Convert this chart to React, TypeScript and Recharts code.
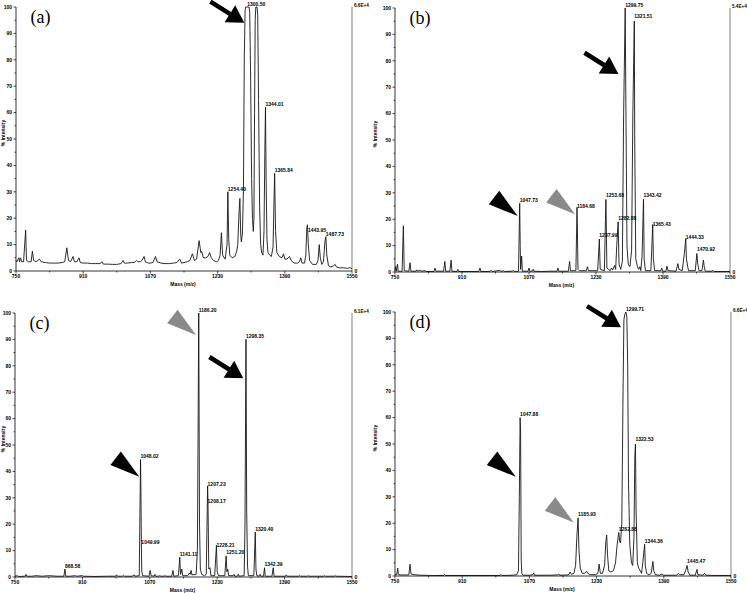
import React from 'react';
import { LineChart, Line, XAxis, YAxis, ReferenceDot, ReferenceLine } from 'recharts';

type Pt = [number, number];
type PeakLabel = [number, number, string];
type Mark = { kind: 'arrow' | 'black' | 'gray'; m: number; v: number };

const SANS = '"Liberation Sans", Arial, sans-serif';
const SERIF = '"Liberation Serif", "Times New Roman", serif';

// axis ticks
const massTicks = [750, 830, 910, 990, 1070, 1150, 1230, 1310, 1390, 1470, 1550];
const intensityTicks = [0, 5, 10, 15, 20, 25, 30, 35, 40, 45, 50, 55, 60, 65, 70, 75, 80, 85, 90, 95, 100];

// (a) spectrum, m/z vs % intensity
const spectrumA: Pt[] = [
  [750, 4], [752, 3.5], [755, 4.5], [757, 5], [758.5, 3.5], [761, 5], [763, 3.5], [768, 3.5], [773, 15.5], [775, 4],
  [780, 3.5], [786, 3.5], [789, 7.5], [792, 4], [798, 3.5], [806, 4.5], [810, 3.5], [820, 3.2], [830, 3], [840, 3],
  [850, 3], [860, 3.2], [866, 3.5], [871, 8.8], [875, 4], [880, 3.5], [886, 5.5], [889, 3.5], [895, 3.5], [900, 5],
  [903, 3.2], [910, 3], [920, 3], [930, 2.8], [940, 2.8], [950, 2.8], [955, 3.5], [958, 2.6], [970, 2.6], [980, 2.5],
  [990, 2.5], [1000, 2.8], [1005, 4], [1008, 3], [1015, 3], [1025, 3.2], [1032, 3.2], [1037, 4], [1040, 3.5], [1046, 3.5],
  [1050, 4], [1055, 5.5], [1058, 3.5], [1065, 3], [1070, 3], [1076, 3.2], [1082, 5.5], [1086, 3.5], [1095, 3], [1105, 2.8],
  [1115, 2.8], [1125, 3], [1133, 3.2], [1140, 4.5], [1144, 3], [1150, 3.2], [1158, 3.5], [1164, 4], [1170, 6.5], [1175, 4],
  [1180, 4.5], [1186, 11.5], [1190, 7], [1192, 7.5], [1196, 5], [1202, 5], [1207, 5.5], [1211, 7], [1215, 5], [1220, 4],
  [1228, 3.5], [1232, 4], [1236, 6], [1239, 14.5], [1242, 6], [1248, 4.5], [1252.5, 10], [1254.4, 30], [1256.5, 12], [1259, 6],
  [1265, 5], [1271, 5.5], [1275.5, 7.5], [1278, 10], [1281, 22], [1283, 27.5], [1285, 14], [1286.5, 11], [1289, 14], [1291.5, 30],
  [1293.5, 80], [1295.5, 99], [1297, 100], [1305, 100], [1306.5, 98], [1308.5, 75], [1311, 35], [1313, 20], [1315, 15], [1316.5, 20],
  [1318, 60], [1319.5, 95], [1321, 100], [1324, 100], [1325.5, 97], [1327.5, 65], [1330, 25], [1332.5, 10], [1335, 7], [1338, 6],
  [1340.5, 15], [1342.5, 45], [1344.01, 62], [1345.5, 35], [1347.5, 12], [1350, 7], [1354, 6], [1358, 5.5], [1362, 9], [1364.5, 28],
  [1365.84, 37], [1368, 15], [1371, 7], [1377, 5.5], [1383, 5], [1387, 6.5], [1390, 4.5], [1395, 4.5], [1401, 5.5], [1405, 4],
  [1412, 3], [1420, 3], [1425, 3.5], [1428, 5], [1431, 3], [1437, 3], [1440, 6], [1442.5, 16.5], [1443.95, 17.5], [1446, 10],
  [1449, 4], [1456, 2.5], [1465, 2.5], [1469, 4], [1472, 10], [1474.5, 5], [1478, 2.5], [1482, 3.5], [1485.5, 11], [1487.73, 13],
  [1490, 6], [1494, 2], [1500, 1.5], [1506, 2], [1510, 2.5], [1513, 1.5], [1520, 1.2], [1530, 1.2], [1540, 1], [1545, 1.3],
  [1550, 0.8],
];

// (b) spectrum
const spectrumB: Pt[] = [
  [750, 0.5], [751.6, 2], [753, 0.3], [756, 3], [757.5, 0.3], [767, 0.3], [770, 17.5], [772, 0.5], [783, 0.3], [786, 3.5],
  [788, 0.3], [800, 0.3], [802, 0.8], [804, 0.3], [810, 0.7], [812, 0.3], [822, 0.5], [824, 0.2], [843, 0.2], [845.5, 1.5],
  [848, 0.3], [866, 0.3], [869, 4], [871, 0.3], [881, 0.3], [884, 4.5], [886, 0.3], [898, 0.2], [900, 1], [902, 0.2],
  [950, 0.2], [953, 1.5], [955, 0.2], [975, 0.2], [980, 0.6], [982, 0.2], [1001, 0.6], [1003, 0.2], [1009, 0.5], [1011, 0.2],
  [1030, 0.3], [1033, 0.6], [1035, 0.2], [1045, 0.3], [1047.73, 26], [1049, 10], [1050, 1], [1052.5, 6], [1054, 0.3], [1068, 0.3],
  [1070, 1.5], [1072, 0.3], [1078, 0.3], [1080, 1], [1082, 0.3], [1100, 0.2], [1120, 0.3], [1137, 0.3], [1139, 1.5], [1141, 0.3],
  [1164, 0.3], [1167, 4], [1169, 0.5], [1182, 0.5], [1184.68, 24.5], [1187, 1], [1190, 0.5], [1207, 0.5], [1209.5, 2], [1212, 0.5],
  [1234, 0.5], [1237.99, 12.5], [1240, 1], [1250, 0.5], [1253.68, 27.5], [1256, 1.5], [1264, 0.5], [1267, 1.5], [1270, 0.8], [1274.5, 2.5],
  [1277, 1], [1279.5, 10], [1282.88, 19], [1285, 3], [1289, 1], [1293, 4], [1296, 60], [1299.75, 100], [1301.5, 60], [1304, 10],
  [1307, 3], [1311, 2], [1315, 8], [1318, 60], [1321.51, 95], [1322.5, 50], [1325, 5], [1329, 2], [1332, 1], [1335, 2],
  [1337, 0.5], [1340, 6], [1343.42, 27.5], [1345, 5], [1348, 0.5], [1361, 0.5], [1363, 8], [1365.43, 18], [1367, 5], [1370, 0.5],
  [1385, 0.5], [1387, 1.5], [1389, 0.3], [1397, 0.3], [1399.5, 2.2], [1402, 0.5], [1421, 0.3], [1425.5, 3.2], [1428, 1], [1436, 0.5],
  [1441, 7], [1444.33, 12.7], [1446, 5], [1449, 2], [1451, 0.5], [1467, 0.5], [1470.92, 7], [1473, 3], [1476, 0.5], [1483, 0.5],
  [1486.5, 4.5], [1488.5, 2], [1491, 0.3], [1507, 0.3], [1509.5, 0.6], [1512, 0.2], [1550, 0.2],
];

// (c) spectrum
const spectrumC: Pt[] = [
  [750, 0.3], [756, 0.5], [758, 0.2], [774, 0.3], [776, 1], [778, 0.3], [790, 0.3], [800, 0.5], [815, 0.3], [830, 0.5],
  [850, 0.3], [866, 0.3], [868.58, 3], [870.5, 0.3], [880, 0.3], [894, 0.5], [896, 0.3], [910, 0.5], [912, 0.3], [940, 0.2],
  [970, 0.3], [989, 0.3], [991, 0.8], [993, 0.3], [1005, 0.3], [1007, 0.6], [1009, 0.3], [1028, 0.3], [1033, 0.8], [1035, 0.3],
  [1045, 0.5], [1048.02, 44.5], [1049, 31], [1049.99, 13], [1051, 2], [1053, 0.5], [1068, 0.3], [1071, 2.5], [1073, 0.5], [1080, 0.3],
  [1082, 1], [1084, 0.3], [1092, 0.3], [1094, 0.6], [1096, 0.3], [1104, 0.3], [1106, 0.6], [1108, 0.3], [1122, 0.3], [1125, 2.5],
  [1127, 0.3], [1138, 0.5], [1141.11, 7.5], [1143, 1], [1146, 3], [1148, 0.5], [1160, 0.5], [1164, 1.5], [1166, 1], [1168, 2.5],
  [1170, 0.8], [1180, 1], [1183, 10], [1186.2, 100], [1188, 20], [1190, 3], [1193, 1], [1200, 0.5], [1204, 1], [1207.23, 34.5],
  [1208.17, 28], [1210, 3], [1213, 3.5], [1215, 0.5], [1224, 0.5], [1228.21, 12], [1230, 2], [1233, 0.5], [1248, 0.5], [1251.2, 8],
  [1253, 2], [1255, 3], [1257, 0.5], [1268, 0.5], [1270, 1], [1272, 0.3], [1278, 0.3], [1280, 1], [1282, 0.3], [1294, 0.5],
  [1296, 20], [1298.35, 90], [1300, 25], [1302, 4], [1304, 0.5], [1317, 0.5], [1320.4, 17], [1322, 3], [1324, 0.5], [1330, 0.3],
  [1332, 1], [1334, 0.3], [1340, 0.3], [1342.39, 3.5], [1344, 0.3], [1360, 0.3], [1363, 3.5], [1365, 0.3], [1392, 0.3], [1394, 0.8],
  [1396, 0.3], [1424, 0.3], [1426, 0.6], [1428, 0.3], [1444, 0.3], [1446, 0.5], [1448, 0.3], [1483, 0.3], [1485, 0.5], [1487, 0.3],
  [1508, 0.3], [1510, 0.5], [1512, 0.3], [1550, 0.2],
];

// (d) spectrum
const spectrumD: Pt[] = [
  [750, 0.5], [754, 0.5], [756.4, 3], [758, 0.5], [765, 0.4], [783, 0.4], [785.7, 4.5], [788, 0.8], [795, 0.5], [810, 0.3],
  [840, 0.2], [866, 0.2], [868, 0.6], [870, 0.2], [900, 0.2], [950, 0.2], [1000, 0.2], [1002.6, 0.6], [1005, 0.2], [1030, 0.3],
  [1040, 0.5], [1044, 2], [1046, 30], [1047.88, 60], [1049, 55], [1050.5, 6], [1052, 1], [1055, 0.3], [1070, 0.3], [1078, 0.5],
  [1080, 1.2], [1082, 0.3], [1120, 0.3], [1137, 0.4], [1140, 0.8], [1142, 0.3], [1163, 0.4], [1167, 1.5], [1170, 0.6], [1176, 1],
  [1180, 4], [1183, 15], [1185.93, 22], [1188, 10], [1191, 3], [1196, 1], [1202, 1], [1206, 1.8], [1209, 1], [1215, 0.5],
  [1228, 0.5], [1233, 1], [1236, 4.5], [1239, 1], [1244, 1], [1249, 4], [1252, 13], [1254, 15.5], [1256, 8], [1259, 2],
  [1264, 1.5], [1270, 2], [1275, 5], [1279, 12], [1282.88, 16.5], [1285, 13], [1287, 12.5], [1290, 20], [1293, 70], [1295, 97],
  [1297, 99], [1299.71, 100], [1302, 98], [1304, 80], [1306, 35], [1309, 12], [1313, 5], [1316, 4], [1319, 15], [1321, 45],
  [1322.53, 50], [1324, 25], [1327, 5], [1330, 3], [1334, 2], [1337, 1], [1340, 5], [1344.36, 12], [1346, 4], [1349, 1],
  [1355, 0.5], [1360, 1], [1364, 5.5], [1366, 2], [1370, 0.5], [1380, 0.3], [1386, 0.8], [1389, 0.3], [1405, 0.3], [1420, 0.3],
  [1425, 1], [1428, 0.5], [1438, 0.5], [1442, 2], [1445.47, 4], [1448, 1.5], [1452, 0.3], [1465, 0.3], [1469, 2.5], [1471, 0.5],
  [1483, 0.3], [1487, 1], [1490, 0.3], [1510, 0.2], [1550, 0.2],
];

// peak labels: m/z, label height, text
const labelsA: PeakLabel[] = [
  [1254.4, 30, '1254.40'], [1300.5, 100, '1300.50'], [1344.01, 62.4, '1344.01'], [1365.84, 37.3, '1365.84'],
  [1445, 14.6, '1443.95'], [1487.73, 13.2, '1487.73'],
];
const labelsB: PeakLabel[] = [
  [1047.73, 26.4, '1047.73'], [1184.68, 24.2, '1184.68'], [1237.99, 13.1, '1237.99'], [1253.68, 28, '1253.68'],
  [1282.88, 19.4, '1282.88'], [1299.75, 100, '1299.75'], [1321.51, 96, '1321.51'], [1343.42, 28, '1343.42'],
  [1365.43, 17.3, '1365.43'], [1444.33, 12.2, '1444.33'], [1470.92, 7.8, '1470.92'],
];
const labelsC: PeakLabel[] = [
  [868.58, 3.2, '868.58'], [1048.02, 44.8, '1048.02'], [1049.99, 12.2, '1049.99'], [1141.11, 7.6, '1141.11'],
  [1186.2, 100, '1186.20'], [1207.23, 34.1, '1207.23'], [1207.23, 27.8, '1208.17'], [1228.21, 11, '1228.21'],
  [1251.2, 8.5, '1251.20'], [1298.35, 90.3, '1298.35'], [1320.4, 17.3, '1320.40'], [1342.39, 4, '1342.39'],
];
const labelsD: PeakLabel[] = [
  [1047.88, 60.4, '1047.88'], [1185.93, 22.5, '1185.93'], [1282.88, 16.8, '1282.88'], [1299.71, 100, '1299.71'],
  [1322.53, 50.8, '1322.53'], [1344.36, 12.4, '1344.36'], [1445.47, 4.8, '1445.47'],
];

// arrow / arrowhead annotations (tip position)
const marksA: Mark[] = [{ kind: 'arrow', m: 1293.6, v: 94 }];
const marksB: Mark[] = [
  { kind: 'arrow', m: 1283.5, v: 75 },
  { kind: 'black', m: 1043, v: 21.2 },
  { kind: 'gray', m: 1179.9, v: 21.9 },
];
const marksC: Mark[] = [
  { kind: 'arrow', m: 1292, v: 75.3 },
  { kind: 'black', m: 1045, v: 38 },
  { kind: 'gray', m: 1179.7, v: 91.7 },
];
const marksD: Mark[] = [
  { kind: 'arrow', m: 1288, v: 94.2 },
  { kind: 'black', m: 1037.4, v: 37.6 },
  { kind: 'gray', m: 1175.5, v: 20.3 },
];

const AXIS_W = 15;
const AXIS_H = 12;

const panels = [
  { name: '(a)', ox: 0, oy: 0, w: 375, h: 290, plot: { top: 7, left: 16, right: 23, bottom: 19 }, data: spectrumA, labels: labelsA, marks: marksA, scale: '6.6E+4' },
  { name: '(b)', ox: 372, oy: 0, w: 375, h: 290, plot: { top: 8, left: 23, right: 17, bottom: 18 }, data: spectrumB, labels: labelsB, marks: marksB, scale: '5.4E+4' },
  { name: '(c)', ox: 0, oy: 290, w: 375, h: 303, plot: { top: 23, left: 15, right: 23, bottom: 16 }, data: spectrumC, labels: labelsC, marks: marksC, scale: '6.1E+4' },
  { name: '(d)', ox: 372, oy: 290, w: 375, h: 303, plot: { top: 22, left: 23, right: 16, bottom: 17 }, data: spectrumD, labels: labelsD, marks: marksD, scale: '6.6E+4' },
];

const MassTick = (props: any) => {
  const { x, y, payload } = props;
  const major = (payload.value - 750) % 160 === 0;
  return (
    <g>
      <line x1={x} x2={x} y1={y} y2={y + (major ? 2.5 : 1.5)} stroke="#000" strokeWidth={0.7} />
      {major && (
        <text x={x} y={y + 7.2} textAnchor="middle" fontSize={5} fontWeight="bold" fontFamily={SANS} fill="#000">
          {payload.value}
        </text>
      )}
    </g>
  );
};

const IntensityTick = (props: any) => {
  const { x, y, payload } = props;
  const major = payload.value % 10 === 0;
  return (
    <g>
      <line x1={x - (major ? 2.5 : 1.5)} x2={x} y1={y} y2={y} stroke="#000" strokeWidth={0.7} />
      {major && (
        <text x={x - 4} y={y + 1.8} textAnchor="end" fontSize={5} fontWeight="bold" fontFamily={SANS} fill="#000">
          {payload.value}
        </text>
      )}
    </g>
  );
};

// arrow or bare arrowhead pointing down-right at (cx, cy)
const markShape = (kind: Mark['kind']) => (p: any) => {
  const { cx, cy } = p;
  const deg = kind === 'arrow' ? 32 : 38;
  const a = (deg * Math.PI) / 180;
  const u = [Math.cos(a), Math.sin(a)];
  const n = [-Math.sin(a), Math.cos(a)];
  const pt = (d: number, s: number) => `${cx - u[0] * d + n[0] * s},${cy - u[1] * d + n[1] * s}`;
  if (kind === 'arrow') {
    const hl = 17, hw = 10, sw = 2.3, len = 40;
    const pts = [pt(0, 0), pt(hl, hw), pt(hl, sw), pt(len, sw), pt(len, -sw), pt(hl, -sw), pt(hl, -hw)];
    return <polygon points={pts.join(' ')} fill="#000" />;
  }
  const hl = 30, hw = 8.5;
  return <polygon points={[pt(0, 0), pt(hl, hw), pt(hl, -hw)].join(' ')} fill={kind === 'black' ? '#000' : '#8a8a8a'} />;
};

const Panel = ({ cfg }: { cfg: (typeof panels)[number] }) => {
  const rows = cfg.data.map(([m, v]) => ({ m, v }));
  const margin = {
    top: cfg.plot.top,
    right: cfg.plot.right,
    left: cfg.plot.left - AXIS_W,
    bottom: cfg.plot.bottom - AXIS_H,
  };
  return (
    <div style={{ position: 'absolute', left: cfg.ox, top: cfg.oy }}>
      <LineChart width={cfg.w} height={cfg.h} data={rows} margin={margin}>
        <XAxis
          dataKey="m"
          type="number"
          domain={[750, 1550]}
          ticks={massTicks}
          interval={0}
          height={AXIS_H}
          tickSize={0}
          tickMargin={0}
          tickLine={false}
          tick={<MassTick />}
          axisLine={{ stroke: '#000', strokeWidth: 0.8 }}
        />
        <YAxis
          type="number"
          domain={[0, 100]}
          ticks={intensityTicks}
          interval={0}
          width={AXIS_W}
          tickSize={0}
          tickMargin={0}
          tickLine={false}
          tick={<IntensityTick />}
          axisLine={{ stroke: '#000', strokeWidth: 0.8 }}
        />
        <ReferenceLine x={1550} stroke="#8c8c8c" strokeWidth={1.1} />
        <Line dataKey="v" type="linear" stroke="#151515" strokeWidth={0.9} dot={false} isAnimationActive={false} />
        {cfg.labels.map(([m, v, text], i) => (
          <ReferenceDot
            key={`l${i}`}
            x={m}
            y={v}
            r={0}
            ifOverflow="visible"
            shape={(p: any) => (
              <text x={p.cx} y={p.cy - 0.6} fontSize={5} fontWeight="bold" fontFamily={SANS} fill="#000">
                {text}
              </text>
            )}
          />
        ))}
        {cfg.marks.map((mk, i) => (
          <ReferenceDot key={`m${i}`} x={mk.m} y={mk.v} r={0} ifOverflow="visible" shape={markShape(mk.kind)} />
        ))}
        <ReferenceDot
          x={1550}
          y={100}
          r={0}
          ifOverflow="visible"
          shape={(p: any) => (
            <text x={p.cx + 2} y={p.cy - 0.5} fontSize={4.6} fontWeight="bold" fontFamily={SANS} fill="#000">
              {cfg.scale}
            </text>
          )}
        />
        <ReferenceDot
          x={1550}
          y={0}
          r={0}
          ifOverflow="visible"
          shape={(p: any) => (
            <text x={p.cx + 2.5} y={p.cy + 1.7} fontSize={5} fontWeight="bold" fontFamily={SANS} fill="#000">
              0
            </text>
          )}
        />
      </LineChart>
    </div>
  );
};

export default function App() {
  return (
    <div style={{ position: 'absolute', left: 0, top: 0, width: 747, height: 593, background: '#fff', overflow: 'hidden' }}>
      {panels.map((cfg) => (
        <Panel key={cfg.name} cfg={cfg} />
      ))}
      <svg width={747} height={593} style={{ position: 'absolute', left: 0, top: 0, pointerEvents: 'none' }}>
        {panels.map((cfg) => {
          const l = cfg.ox + cfg.plot.left;
          const r = cfg.ox + cfg.w - cfg.plot.right;
          const t = cfg.oy + cfg.plot.top;
          const b = cfg.oy + cfg.h - cfg.plot.bottom;
          const ylab = cfg.ox + 4.5;
          const yc = (t + b) / 2 - 6;
          return (
            <g key={cfg.name}>
              <text x={l + 14.5} y={t + 15.5} fontSize={18} fontFamily={SERIF} fill="#000">
                {cfg.name}
              </text>
              <text
                x={ylab}
                y={yc}
                transform={`rotate(-90 ${ylab} ${yc})`}
                textAnchor="middle"
                fontSize={5}
                fontWeight="bold"
                fontFamily={SANS}
                fill="#000"
              >
                % Intensity
              </text>
              <text x={(l + r) / 2 - 1} y={b + 15} textAnchor="middle" fontSize={5} fontWeight="bold" fontFamily={SANS} fill="#000">
                Mass (m/z)
              </text>
            </g>
          );
        })}
      </svg>
    </div>
  );
}
